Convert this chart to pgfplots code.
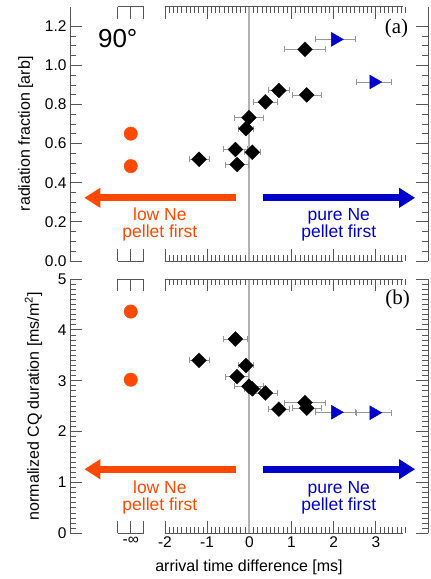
\documentclass[border=0pt]{standalone}
\usepackage{fontspec}
\setmainfont{Liberation Sans}
\newfontfamily\seriffont{Liberation Serif}
\usepackage{pgfplots}
\usepackage{pgfplotstable}
\pgfplotsset{compat=1.18}
\usetikzlibrary{arrows.meta}
\definecolor{lowne}{RGB}{255,72,0}
\definecolor{purene}{RGB}{0,0,205}
\definecolor{axgray}{RGB}{85,85,85}
\definecolor{ebgray}{RGB}{150,150,150}
\definecolor{zerogray}{RGB}{178,178,178}

\pgfplotstableread{
x ex ya yb
-1.19 0.24 0.520 3.40
-0.33 0.29 0.570 3.82
-0.29 0.27 0.493 3.08
-0.08 0.17 0.677 3.30
-0.01 0.34 0.733 2.89
0.07 0.18 0.556 2.84
0.38 0.28 0.813 2.76
0.70 0.25 0.872 2.44
1.32 0.48 1.082 2.57
1.36 0.35 0.849 2.46
}\diamonds
\pgfplotstableread{
x ex ya yb
2.04 0.48 1.133 2.38
2.95 0.42 0.915 2.37
}\tris
\pgfplotstableread{
x ya yb
-2.81 0.651 4.36
-2.81 0.485 3.02
}\circs

\pgfplotsset{
  myaxis/.style={
    scale only axis, width=358pt, height=254.3pt,
    xmin=-4.25, xmax=4.235,
    clip=false,
    separate axis lines,
    x axis line style={draw=none},
    y axis line style={draw=axgray, line width=0.8pt},
    xtick={-2,-1,0,1,2,3},
    minor xtick={-2,-1.9,...,3.65},
    extra x ticks={-3.12,-2.81,-2.5},
    major tick length=12pt, minor tick length=6pt,
    every tick/.style={axgray, line width=0.8pt},
    tick label style={font=\fontsize{15.5}{18}\selectfont},
    /pgf/number format/assume math mode=true,
    every axis y label/.style={rotate=90, anchor=base, font=\fontsize{16}{19}\selectfont},
    every axis x label/.style={at={(axis description cs:0.5,-0.152)}, anchor=base, font=\fontsize{16}{19}\selectfont},
  },
  diam/.style={draw=none, mark=square*, mark size=5.3pt, mark options={rotate=45, fill=black, draw=black, line width=0.2pt}},
  tri/.style={draw=none, mark=triangle*, mark size=8pt, mark options={rotate=-90, fill=purene, draw=purene}},
  circ/.style={draw=none, mark=*, mark size=6.7pt, mark options={fill=lowne, draw=lowne}},
  ebar/.style={draw=none, mark=none, forget plot, error bars/.cd, x dir=both, x explicit,
    error bar style={draw=ebgray, solid, line width=0.7pt}, error mark=|, error mark options={draw=ebgray, solid, mark size=3pt, line width=0.7pt}},
}

\begin{document}
\begin{tikzpicture}
\useasboundingbox (0,0) rectangle (431pt,579pt);
% ---------------- panel (a)
\begin{axis}[myaxis, at={(70pt,318pt)}, anchor=south west,
  ymin=0, ymax=1.3,
  ytick={0,0.2,0.4,0.6,0.8,1.0,1.2}, minor y tick num=3,
  yticklabel style={/pgf/number format/.cd, fixed, fixed zerofill, precision=1},
  xticklabels={}, extra x tick labels={},
  ylabel={radiation fraction [arb]},
  every axis y label/.append style={at={(axis description cs:-0.112,0.5)}},
]
\draw[zerogray, line width=2.2pt] (axis cs:0,0) -- (axis cs:0,1.3);
\draw[axgray, line width=0.8pt] (axis cs:-3.12,0) -- (axis cs:-2.5,0);
\draw[axgray, line width=0.8pt] (axis cs:-2,0) -- (axis cs:3.65,0);
\draw[axgray, line width=0.8pt] (axis cs:-3.12,1.3) -- (axis cs:-2.5,1.3);
\draw[axgray, line width=0.8pt] (axis cs:-2,1.3) -- (axis cs:3.65,1.3);
\addplot[circ] table[x=x, y=ya] {\circs};
\addplot[diam] table[x=x, y=ya] {\diamonds};
\addplot[tri] table[x=x, y=ya] {\tris};
\addplot[ebar] table[x=x, y=ya, x error=ex] {\diamonds};
\addplot[ebar] table[x=x, y=ya, x error=ex] {\tris};
\draw[lowne, line width=6.7pt, -{Triangle[length=16pt, width=19pt]}] (axis cs:-0.32,0.323) -- (axis cs:-3.91,0.323);
\draw[purene, line width=6.7pt, -{Triangle[length=16pt, width=19pt]}] (axis cs:0.33,0.323) -- (axis cs:3.93,0.323);
\node[lowne, anchor=base, inner sep=0pt, font=\fontsize{17.5}{17}\selectfont] at (axis cs:-2.12,0.206) {low Ne};
\node[lowne, anchor=base, inner sep=0pt, font=\fontsize{17.5}{17}\selectfont] at (axis cs:-2.12,0.121) {pellet first};
\node[purene, anchor=base, inner sep=0pt, font=\fontsize{17.5}{17}\selectfont] at (axis cs:2.12,0.206) {pure Ne};
\node[purene, anchor=base, inner sep=0pt, font=\fontsize{17.5}{17}\selectfont] at (axis cs:2.12,0.121) {pellet first};
\node[anchor=base west, inner sep=0pt, font=\fontsize{26}{28}\selectfont] at (axis cs:-3.59,1.093) {90°};
\node[anchor=base east, inner sep=0pt, font=\seriffont\fontsize{21}{23}\selectfont] at (axis cs:3.77,1.162) {(a)};
\end{axis}
% ---------------- panel (b)
\begin{axis}[myaxis, at={(70pt,45.7pt)}, anchor=south west,
  ymin=0, ymax=5,
  ytick={0,1,2,3,4,5}, minor y tick num=9,
  xticklabels={-2,-1,0,1,2,3}, extra x tick labels={,{-∞},},
  ylabel={normalized CQ duration [ms/m\textsuperscript{2}]},
  every axis y label/.append style={at={(axis description cs:-0.087,0.5)}},
  xlabel={arrival time difference [ms]},
]
\draw[zerogray, line width=2.2pt] (axis cs:0,0) -- (axis cs:0,5);
\draw[axgray, line width=0.8pt] (axis cs:-3.12,0) -- (axis cs:-2.5,0);
\draw[axgray, line width=0.8pt] (axis cs:-2,0) -- (axis cs:3.65,0);
\draw[axgray, line width=0.8pt] (axis cs:-3.12,5) -- (axis cs:-2.5,5);
\draw[axgray, line width=0.8pt] (axis cs:-2,5) -- (axis cs:3.65,5);
\addplot[circ] table[x=x, y=yb] {\circs};
\addplot[diam] table[x=x, y=yb] {\diamonds};
\addplot[tri] table[x=x, y=yb] {\tris};
\addplot[ebar] table[x=x, y=yb, x error=ex] {\diamonds};
\addplot[ebar] table[x=x, y=yb, x error=ex] {\tris};
\draw[lowne, line width=6.7pt, -{Triangle[length=16pt, width=19pt]}] (axis cs:-0.32,1.26) -- (axis cs:-3.91,1.26);
\draw[purene, line width=6.7pt, -{Triangle[length=16pt, width=19pt]}] (axis cs:0.33,1.26) -- (axis cs:3.93,1.26);
\node[lowne, anchor=base, inner sep=0pt, font=\fontsize{17.5}{17}\selectfont] at (axis cs:-2.12,0.787) {low Ne};
\node[lowne, anchor=base, inner sep=0pt, font=\fontsize{17.5}{17}\selectfont] at (axis cs:-2.12,0.458) {pellet first};
\node[purene, anchor=base, inner sep=0pt, font=\fontsize{17.5}{17}\selectfont] at (axis cs:2.12,0.787) {pure Ne};
\node[purene, anchor=base, inner sep=0pt, font=\fontsize{17.5}{17}\selectfont] at (axis cs:2.12,0.458) {pellet first};
\node[anchor=base east, inner sep=0pt, font=\seriffont\fontsize{21}{23}\selectfont] at (axis cs:3.81,4.5) {(b)};
\end{axis}
\end{tikzpicture}
\end{document}
